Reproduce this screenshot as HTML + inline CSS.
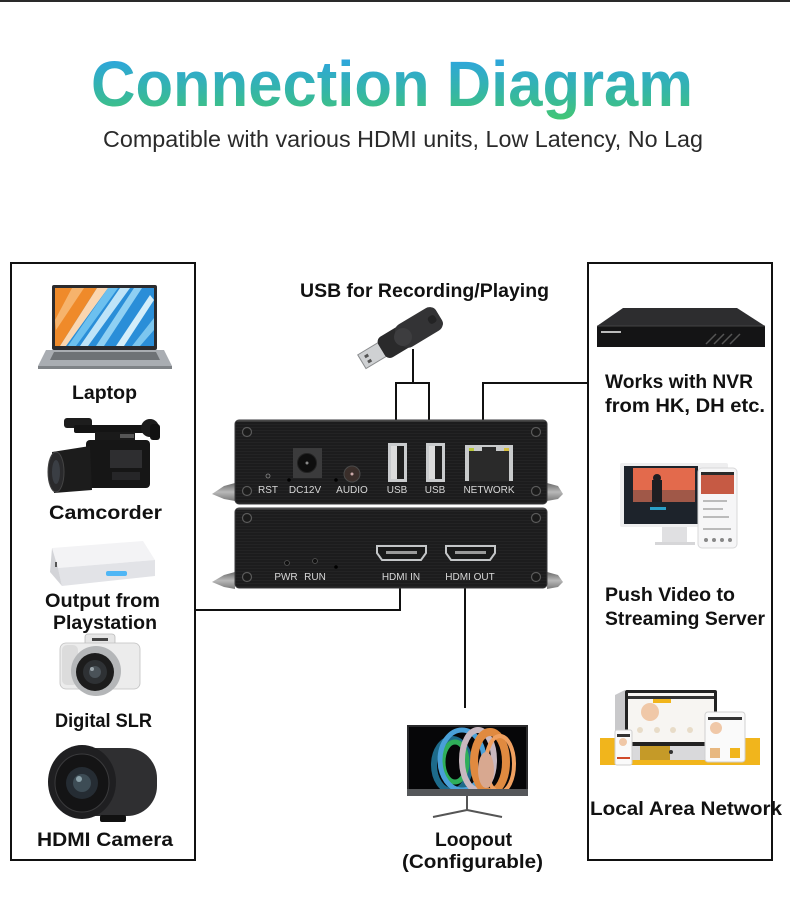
<!DOCTYPE html>
<html><head><meta charset="utf-8"><style>
html,body{margin:0;padding:0;background:#fff;}
svg{display:block;}
text{font-family:"Liberation Sans",Arial,sans-serif;}
</style></head><body>
<svg width="790" height="901" viewBox="0 0 790 901" xmlns="http://www.w3.org/2000/svg">
<defs>
<linearGradient id="tg" x1="0" y1="60" x2="0" y2="118" gradientUnits="userSpaceOnUse">
<stop offset="0" stop-color="#2ea6dc"/><stop offset="0.55" stop-color="#35b6a6"/><stop offset="1" stop-color="#42c577"/>
</linearGradient>
<pattern id="brush" width="6" height="3" patternUnits="userSpaceOnUse">
<rect width="6" height="3" fill="#1c1c1d"/><rect y="1" width="6" height="1" fill="#232324"/>
</pattern>
<linearGradient id="ear" x1="0" y1="0" x2="0" y2="1"><stop offset="0" stop-color="#6a6a6a"/><stop offset="0.5" stop-color="#b8b8b8"/><stop offset="1" stop-color="#7a7a7a"/></linearGradient>
<linearGradient id="silver" x1="0" y1="0" x2="0" y2="1"><stop offset="0" stop-color="#c4c7cb"/><stop offset="1" stop-color="#8d9095"/></linearGradient>
<clipPath id="lapclip"><rect x="55" y="288" width="99" height="58"/></clipPath>
<clipPath id="monclip"><rect x="409" y="727" width="117" height="62"/></clipPath>
<clipPath id="strclip"><rect x="624" y="466" width="74" height="58"/></clipPath>
</defs>

<!-- top bar -->
<rect x="0" y="0" width="790" height="2" fill="#2a2a2a"/>

<!-- Title -->
<text x="91" y="106" font-size="64" font-weight="bold" fill="url(#tg)" textLength="602" lengthAdjust="spacingAndGlyphs">Connection Diagram</text>
<text x="103" y="147" font-size="23" fill="#2a2a2a" textLength="600" lengthAdjust="spacingAndGlyphs">Compatible with various HDMI units, Low Latency, No Lag</text>

<!-- Boxes -->
<rect x="11" y="263" width="184" height="597" fill="none" stroke="#111" stroke-width="2"/>
<rect x="588" y="263" width="184" height="597" fill="none" stroke="#111" stroke-width="2"/>

<!-- Connectors -->
<g fill="none" stroke="#111" stroke-width="2">
<path d="M195,610 H400 V588"/>
<path d="M465,588 V708"/>
<path d="M413,349 V383"/>
<path d="M396,421 V383 H429 V421"/>
<path d="M483,421 V383 H588"/>
</g>

<!-- Labels -->
<g font-weight="bold" fill="#111" font-size="19.5">
<text x="300" y="297" textLength="249" lengthAdjust="spacingAndGlyphs">USB for Recording/Playing</text>
<text x="72" y="399" textLength="65" lengthAdjust="spacingAndGlyphs">Laptop</text>
<text x="49" y="519" textLength="113" lengthAdjust="spacingAndGlyphs">Camcorder</text>
<text x="45" y="607" textLength="115" lengthAdjust="spacingAndGlyphs">Output from</text>
<text x="53" y="629" textLength="104" lengthAdjust="spacingAndGlyphs">Playstation</text>
<text x="55" y="727" textLength="97" lengthAdjust="spacingAndGlyphs">Digital SLR</text>
<text x="37" y="846" textLength="136" lengthAdjust="spacingAndGlyphs">HDMI Camera</text>
<text x="605" y="388" textLength="148" lengthAdjust="spacingAndGlyphs">Works with NVR</text>
<text x="605" y="412" textLength="160" lengthAdjust="spacingAndGlyphs">from HK, DH etc.</text>
<text x="605" y="601" textLength="130" lengthAdjust="spacingAndGlyphs">Push Video to</text>
<text x="605" y="625" textLength="160" lengthAdjust="spacingAndGlyphs">Streaming Server</text>
<text x="590" y="815" textLength="192" lengthAdjust="spacingAndGlyphs">Local Area Network</text>
<text x="435" y="846" textLength="77" lengthAdjust="spacingAndGlyphs">Loopout</text>
<text x="402" y="868" textLength="141" lengthAdjust="spacingAndGlyphs">(Configurable)</text>
</g>

<!-- Laptop -->
<rect x="52" y="285" width="105" height="65" rx="2" fill="#2b2b2e"/>
<g clip-path="url(#lapclip)">
<rect x="55" y="288" width="99" height="58" fill="#2a8ed8"/>
<polygon points="55,288 97,288 60,346 55,346" fill="#ef8a2a"/>
<polygon points="72,288 84,288 56,330 55,320" fill="#f6b36c"/>
<polygon points="97,288 108,288 66,346 60,346" fill="#fbd6b0"/>
<polygon points="108,288 118,288 76,346 68,346" fill="#6cc0ef"/>
<polygon points="120,288 130,288 88,346 80,346" fill="#bfe4f8"/>
<polygon points="134,288 142,288 104,346 96,346" fill="#8fd0f3"/>
<polygon points="150,295 154,300 124,346 116,346" fill="#d4eefa"/>
<polygon points="154,318 154,330 140,346 132,346" fill="#7cc6ef"/>
</g>
<polygon points="46,350 164,350 172,366 38,366" fill="#a9adb2"/>
<polygon points="54,352 156,352 160,360 50,360" fill="#6e7276"/>
<rect x="38" y="366" width="134" height="3" fill="#7f8387"/>

<!-- Camcorder -->
<g>
<rect x="64" y="418" width="28" height="10" rx="3" fill="#1d1d1d"/>
<rect x="74" y="425" width="76" height="8" rx="2" fill="#141414"/>
<circle cx="150" cy="428" r="9" fill="#1b1b1b"/>
<rect x="150" y="424" width="10" height="16" rx="3" fill="#111"/>
<rect x="95" y="432" width="40" height="12" fill="#1a1a1a"/>
<rect x="86" y="440" width="64" height="48" rx="4" fill="#161616"/>
<rect x="110" y="450" width="32" height="18" fill="#2e2e30"/>
<rect x="112" y="472" width="28" height="8" fill="#262628"/>
<polygon points="52,452 90,446 92,490 54,493" fill="#1c1c1c"/>
<ellipse cx="56" cy="472" rx="8" ry="20" fill="#2a2a2c" stroke="#444" stroke-width="1"/>
<ellipse cx="56" cy="472" rx="4" ry="12" fill="#3a3e44"/>
<rect x="120" y="434" width="14" height="4" fill="#555"/>
</g>

<!-- Playstation box -->
<polygon points="52,548 143,541 155,560 58,568" fill="#f3f3f5"/>
<polygon points="58,568 155,560 155,576 62,586" fill="#e2e3e7"/>
<polygon points="52,548 58,568 62,586 50,572" fill="#d3d4d8"/>
<rect x="106" y="571" width="21" height="5" rx="2" fill="#4fb6f5"/>
<rect x="55" y="562" width="2" height="5" fill="#555"/>

<!-- Digital SLR -->
<rect x="85" y="634" width="30" height="14" rx="3" fill="#e6e6e6" stroke="#bbb" stroke-width="0.8"/>
<rect x="60" y="643" width="80" height="46" rx="6" fill="#ececec" stroke="#c0c0c0" stroke-width="0.8"/>
<rect x="62" y="645" width="16" height="40" rx="5" fill="#dcdcdc"/>
<circle cx="96" cy="671" r="25" fill="#b4b6b8"/>
<circle cx="95" cy="672" r="19" fill="#1c1c1c"/>
<circle cx="95" cy="672" r="12" fill="#2e3134"/>
<circle cx="95" cy="672" r="6" fill="#4a5258"/>
<circle cx="92" cy="669" r="2" fill="#9aa4aa"/>
<rect x="92" y="638" width="16" height="3" fill="#444"/>

<!-- HDMI Camera -->
<rect x="78" y="748" width="79" height="68" rx="30" fill="#2f2f31"/>
<rect x="78" y="748" width="40" height="68" fill="#2f2f31"/>
<ellipse cx="82" cy="782" rx="34" ry="37" fill="#1f1f21"/>
<ellipse cx="82" cy="783" rx="27" ry="29" fill="#141415" stroke="#3a3a3c" stroke-width="1"/>
<circle cx="82" cy="783" r="16" fill="#252c33"/>
<circle cx="82" cy="783" r="9" fill="#3d4c55"/>
<circle cx="79" cy="779" r="3" fill="#8aa0a8"/>
<rect x="100" y="815" width="26" height="7" rx="2" fill="#111"/>

<!-- USB drive -->
<g transform="translate(403,337) rotate(-31)">
<rect x="-48" y="-8" width="25" height="16" fill="#cfd1d3" stroke="#8a8c8e" stroke-width="1"/>
<rect x="-43" y="-4" width="4" height="3" fill="#555"/>
<rect x="-43" y="2" width="4" height="3" fill="#555"/>
<rect x="-25" y="-12" width="67" height="24" rx="6" fill="#2a2a2b"/>
<rect x="-5" y="-13" width="47" height="26" rx="8" fill="#333335"/>
<circle cx="0" cy="0" r="9" fill="#3d3d3f"/>
<rect x="30" y="-4" width="8" height="8" rx="3" fill="#232324"/>
</g>

<!-- Device: ears -->
<polygon points="235,483 224,486 212,494 224,499 235,501" fill="url(#ear)"/>
<polygon points="547,483 558,486 563,494 558,499 547,501" fill="url(#ear)"/>
<polygon points="235,572 224,575 212,582 224,587 235,589" fill="url(#ear)"/>
<polygon points="547,572 558,575 563,582 558,587 547,589" fill="url(#ear)"/>

<!-- Device top unit -->
<rect x="235" y="420" width="312" height="84" rx="4" fill="url(#brush)" stroke="#3a3a3c" stroke-width="1"/>
<line x1="237" y1="421" x2="545" y2="421" stroke="#555" stroke-width="1"/>
<!-- Device bottom unit -->
<rect x="235" y="508" width="312" height="80" rx="4" fill="url(#brush)" stroke="#3a3a3c" stroke-width="1"/>
<line x1="237" y1="509" x2="545" y2="509" stroke="#555" stroke-width="1"/>

<!-- screws -->
<g fill="#1a1a1a" stroke="#5a5a5a" stroke-width="1.2">
<circle cx="247" cy="432" r="4.5"/><circle cx="536" cy="432" r="4.5"/>
<circle cx="247" cy="491" r="4.5"/><circle cx="536" cy="491" r="4.5"/>
<circle cx="247" cy="518" r="4.5"/><circle cx="536" cy="518" r="4.5"/>
<circle cx="247" cy="577" r="4.5"/><circle cx="536" cy="577" r="4.5"/>
</g>

<!-- top unit ports -->
<circle cx="268" cy="476" r="2" fill="none" stroke="#888" stroke-width="0.8"/>
<rect x="293" y="448" width="29" height="30" fill="#3b3b3c"/>
<circle cx="307" cy="463" r="9.5" fill="#0e0e0e" stroke="#222" stroke-width="1"/>
<circle cx="307" cy="463" r="1.5" fill="#888"/>
<circle cx="289" cy="480" r="1.8" fill="#000"/>
<circle cx="336" cy="480" r="1.8" fill="#000"/>
<circle cx="352" cy="474" r="8" fill="#3a2e2a" stroke="#4a4a4a" stroke-width="1"/>
<circle cx="352" cy="474" r="1.5" fill="#caa"/>
<rect x="388" y="443" width="19" height="39" fill="#c9cbcd"/>
<rect x="391" y="446" width="13" height="33" fill="#1e1e1e"/>
<rect x="391" y="446" width="6" height="33" fill="#dcdcdc"/>
<rect x="426" y="443" width="19" height="39" fill="#c9cbcd"/>
<rect x="429" y="446" width="13" height="33" fill="#1e1e1e"/>
<rect x="429" y="446" width="6" height="33" fill="#dcdcdc"/>
<rect x="465" y="445" width="48" height="36" fill="#c8cacb"/>
<rect x="469" y="451" width="40" height="30" fill="#2a2a2a"/>
<rect x="482" y="447" width="14" height="8" fill="#2a2a2a"/>
<rect x="469" y="448" width="5" height="3" fill="#b8c83a"/>
<rect x="504" y="448" width="5" height="3" fill="#d8c040"/>
<g font-size="10" fill="#d8d8d8" text-anchor="middle">
<text x="268" y="493">RST</text>
<text x="305" y="493">DC12V</text>
<text x="352" y="493">AUDIO</text>
<text x="397" y="493">USB</text>
<text x="435" y="493">USB</text>
<text x="489" y="493">NETWORK</text>
</g>

<!-- bottom unit ports -->
<circle cx="287" cy="563" r="2.5" fill="#111" stroke="#555" stroke-width="0.8"/>
<circle cx="315" cy="561" r="2.5" fill="#111" stroke="#555" stroke-width="0.8"/>
<circle cx="336" cy="567" r="1.8" fill="#000"/>
<path d="M377,546 H426 V553 L421,560 H382 L377,553 Z" fill="#1a1a1a" stroke="#c4c6c8" stroke-width="2"/>
<rect x="386" y="551" width="31" height="3" fill="#9a9a9a"/>
<path d="M446,546 H495 V553 L490,560 H451 L446,553 Z" fill="#1a1a1a" stroke="#c4c6c8" stroke-width="2"/>
<rect x="455" y="551" width="31" height="3" fill="#9a9a9a"/>
<g font-size="10" fill="#d8d8d8" text-anchor="middle">
<text x="286" y="580">PWR</text>
<text x="315" y="580">RUN</text>
<text x="401" y="580">HDMI IN</text>
<text x="470" y="580">HDMI OUT</text>
</g>

<!-- NVR -->
<polygon points="623,308 737,308 765,326 597,326" fill="#2d2d2f"/>
<rect x="597" y="326" width="168" height="21" fill="#141415"/>
<line x1="597" y1="326" x2="765" y2="326" stroke="#444" stroke-width="1"/>
<rect x="601" y="331" width="20" height="2" fill="#bbb"/>
<g stroke="#555" stroke-width="1.5">
<line x1="706" y1="344" x2="716" y2="334"/><line x1="714" y1="344" x2="724" y2="334"/>
<line x1="722" y1="344" x2="732" y2="334"/><line x1="730" y1="344" x2="740" y2="334"/>
</g>

<!-- Streaming monitor + phone -->
<rect x="620" y="463" width="108" height="64" rx="2" fill="#eeeeef"/>
<g clip-path="url(#strclip)">
<rect x="624" y="466" width="74" height="58" fill="#1d232b"/>
<rect x="633" y="468" width="62" height="34" fill="#e36a4c"/>
<rect x="633" y="490" width="62" height="12" fill="#a05848"/>
<rect x="652" y="480" width="10" height="22" fill="#1e1e22"/>
<circle cx="657" cy="478" r="4" fill="#1e1e22"/>
<rect x="650" y="507" width="16" height="3" fill="#2aa0c8"/>
</g>
<rect x="662" y="527" width="25" height="15" fill="#e0e0e2"/>
<rect x="655" y="542" width="40" height="3" fill="#d6d6d8"/>
<rect x="698" y="468" width="39" height="80" rx="4" fill="#f6f6f7" stroke="#d8d8da" stroke-width="1"/>
<rect x="701" y="474" width="33" height="20" fill="#c65a44"/>
<rect x="701" y="472" width="33" height="3" fill="#2a2a2a"/>
<g fill="#bbb"><rect x="703" y="500" width="24" height="2"/><rect x="703" y="508" width="20" height="2"/><rect x="703" y="516" width="26" height="2"/><rect x="703" y="528" width="28" height="2"/></g>
<g fill="#888"><circle cx="706" cy="540" r="2"/><circle cx="714" cy="540" r="2"/><circle cx="722" cy="540" r="2"/><circle cx="730" cy="540" r="2"/></g>

<!-- LAN -->
<rect x="600" y="738" width="160" height="27" fill="#f1b51c"/>
<polygon points="615,695 625,690 625,760 615,760" fill="#c9c9cb"/>
<rect x="625" y="690" width="92" height="56" rx="2" fill="#222"/>
<rect x="628" y="693" width="86" height="49" fill="#f7f5f2"/>
<rect x="628" y="696" width="86" height="3" fill="#333"/>
<rect x="653" y="699" width="18" height="4" fill="#f1b51c"/>
<ellipse cx="650" cy="712" rx="9" ry="9" fill="#f0c8a8"/>
<g fill="#e8dcc8"><circle cx="640" cy="730" r="3"/><circle cx="657" cy="730" r="3"/><circle cx="673" cy="730" r="3"/><circle cx="690" cy="730" r="3"/></g>
<rect x="625" y="746" width="92" height="14" fill="#d9d9db"/>
<rect x="640" y="746" width="30" height="14" fill="#c59a28"/>
<circle cx="671" cy="752" r="2" fill="#333"/>
<rect x="705" y="712" width="40" height="50" rx="3" fill="#fafafa" stroke="#d0d0d0" stroke-width="1"/>
<rect x="708" y="717" width="34" height="3" fill="#333"/>
<ellipse cx="716" cy="728" rx="6" ry="6" fill="#f0c8a8"/>
<rect x="710" y="748" width="10" height="10" fill="#e8b880"/><rect x="730" y="748" width="10" height="10" fill="#f1b51c"/>
<rect x="615" y="730" width="17" height="35" rx="2" fill="#fafafa" stroke="#cfcfcf" stroke-width="1"/>
<rect x="617" y="734" width="13" height="3" fill="#333"/>
<ellipse cx="623" cy="742" rx="4" ry="4" fill="#f0c8a8"/>
<rect x="617" y="757" width="13" height="2" fill="#d04a2a"/>

<!-- Loopout monitor -->
<rect x="407" y="725" width="121" height="71" fill="#2a2a2c"/>
<g clip-path="url(#monclip)">
<rect x="409" y="727" width="117" height="62" fill="#060608"/>
<g fill="none" stroke-linecap="round">
<ellipse cx="452" cy="765" rx="18" ry="26" stroke="#1d6a8a" stroke-width="6"/>
<ellipse cx="455" cy="762" rx="12" ry="20" stroke="#2fae5a" stroke-width="5"/>
<ellipse cx="462" cy="760" rx="22" ry="30" stroke="#4aa0d8" stroke-width="5"/>
<ellipse cx="478" cy="760" rx="16" ry="30" stroke="#c8b8c0" stroke-width="6"/>
<ellipse cx="490" cy="762" rx="16" ry="30" stroke="#e08a40" stroke-width="8"/>
<ellipse cx="500" cy="764" rx="14" ry="28" stroke="#f0a060" stroke-width="4"/>
</g>
<ellipse cx="486" cy="770" rx="8" ry="18" fill="#d8a890"/>
</g>
<rect x="407" y="789" width="121" height="7" fill="#55575a"/>
<g stroke="#555" stroke-width="2" fill="none">
<line x1="467" y1="796" x2="467" y2="810"/>
<line x1="467" y1="810" x2="433" y2="817"/>
<line x1="467" y1="810" x2="502" y2="817"/>
</g>

</svg>
</body></html>
